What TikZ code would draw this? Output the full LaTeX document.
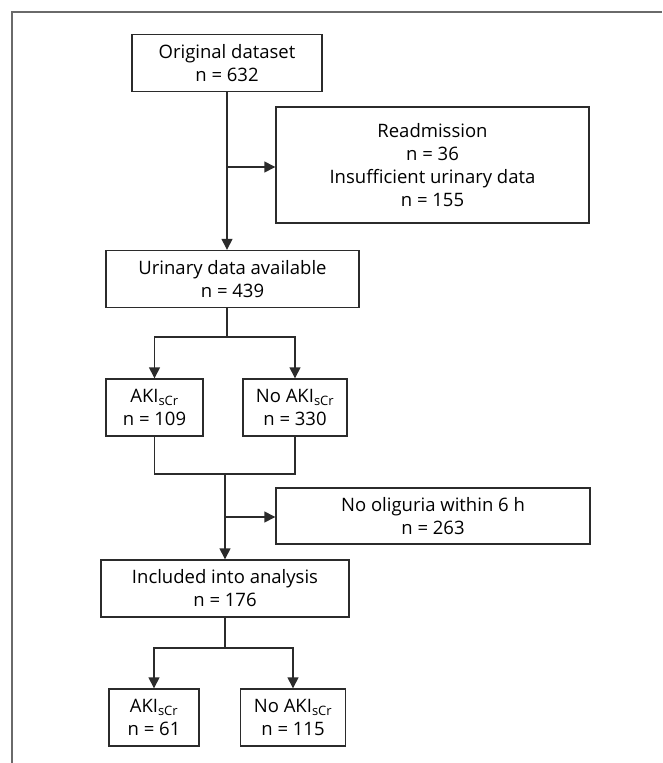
\documentclass[tikz,border=0pt]{standalone}
\usepackage{fontspec}
\setmainfont{Open Sans}
\usetikzlibrary{arrows.meta}
\definecolor{linegray}{HTML}{2B2B2B}
\definecolor{framegray}{HTML}{6A6A6A}
\begin{document}
\begin{tikzpicture}[x=1pt, y=-1pt, line width=1.4pt, draw=linegray,
    box/.style = {draw=linegray, fill=white, align=center, inner sep=0pt,
                  minimum height=57pt, font=\fontsize{18.5}{23}\selectfont},
    flow/.style = {draw=linegray, -{Triangle[length=11pt, width=11pt]}}]
  \useasboundingbox (0,0) rectangle (662,763);
  \draw[framegray, line width=2pt] (12,763) -- (12,12) -- (662,12);
  \node [box, minimum width=190pt] (orig) at (227,63) {Original dataset\\n = 632};
  \node [box, minimum width=313pt, minimum height=116pt] (excl1) at (432.5,165) {Readmission\\n = 36\\Insufficient urinary data\\n = 155};
  \node [box, minimum width=253pt] (urin) at (232.5,279) {Urinary data available\\n = 439};
  \node [box, minimum width=97pt] (aki1) at (154.5,407.5) {AKI\textsubscript{sCr}\\n = 109};
  \node [box, minimum width=104pt] (noaki1) at (295,407.5) {No AKI\textsubscript{sCr}\\n = 330};
  \node [box, minimum width=314pt, minimum height=56pt] (excl2) at (433,516) {No oliguria within 6 h\\n = 263};
  \node [box, minimum width=248pt] (incl) at (225,588.5) {Included into analysis\\n = 176};
  \node [box, minimum width=90pt] (aki2) at (154,717.5) {AKI\textsubscript{sCr}\\n = 61};
  \node [box, minimum width=105pt] (noaki2) at (293,717.5) {No AKI\textsubscript{sCr}\\n = 115};
  \coordinate (split1) at (227,167);
  \coordinate (split2) at (225,517);
  \draw[flow] (orig.south -| split1) -- (urin.north -| split1);
  \draw[flow] (split1) -- (split1 -| excl1.west);
  \draw[flow] (urin.south -| split1) |- (225,337) -| (aki1.north);
  \draw[flow] (225,337) -| (noaki1.north);
  \draw (aki1.south) |- (225,474) -| (noaki1.south);
  \draw[flow] (225,474) -- (incl.north);
  \draw[flow] (split2) -- (split2 -| excl2.west);
  \draw[flow] (incl.south) |- (225,648) -| (aki2.north);
  \draw[flow] (225,648) -| (noaki2.north);
\end{tikzpicture}
\end{document}
